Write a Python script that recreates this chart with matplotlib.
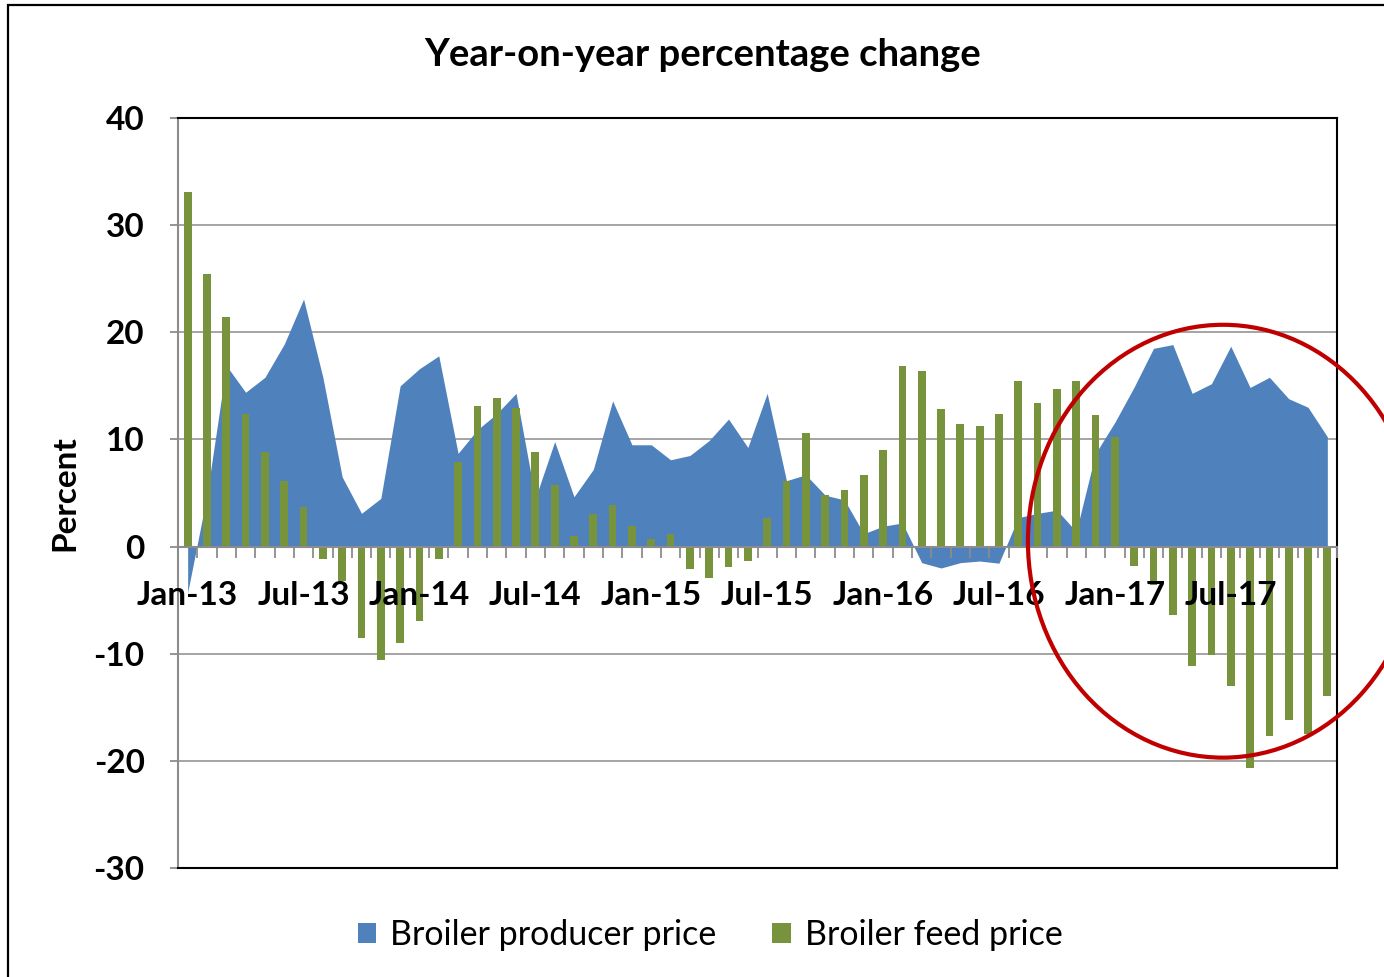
import matplotlib
matplotlib.use("Agg")
import matplotlib.pyplot as plt
from matplotlib.patches import Patch, Ellipse, Rectangle
import numpy as np

plt.rcParams['font.family'] = ['Lato', 'DejaVu Sans']

months = [f"{m}-{y}" for y in range(13, 18) for m in
          ["Jan", "Feb", "Mar", "Apr", "May", "Jun", "Jul", "Aug", "Sep", "Oct", "Nov", "Dec"]]

producer_price = [-4.3, 4.8, 16.9, 14.4, 15.8, 18.9, 23.1, 15.8, 6.5, 3.1,
                  4.5, 15.0, 16.6, 17.8, 8.7, 10.9, 12.4, 14.3, 4.5, 9.8,
                  4.65, 7.2, 13.6, 9.5, 9.5, 8.1, 8.5, 9.9, 11.9, 9.25,
                  14.3, 6.15, 6.7, 4.8, 4.35, 1.2, 1.9, 2.2, -1.5, -2.0,
                  -1.5, -1.35, -1.55, 2.7, 3.1, 3.4, 1.4, 8.7, 11.6, 14.9,
                  18.5, 18.85, 14.3, 15.2, 18.7, 14.85, 15.8, 13.8, 13.0, 10.25]

feed_price = [33.1, 25.4, 21.4, 12.4, 8.8, 6.1, 3.7, -1.15, -3.2, -8.5,
              -10.6, -9.0, -6.9, -1.2, 7.9, 13.1, 13.9, 12.95, 8.8, 5.75,
              1.0, 3.0, 3.85, 1.9, 0.7, 1.2, -2.1, -2.9, -1.95, -1.35,
              2.7, 6.15, 10.6, 4.8, 5.3, 6.7, 9.0, 16.9, 16.4, 12.8,
              11.45, 11.25, 12.4, 15.5, 13.4, 14.7, 15.5, 12.3, 10.25, -1.8,
              -3.6, -6.4, -11.1, -10.1, -13.0, -20.7, -17.7, -16.2, -17.5, -13.9]

y_ticks = [-30, -20, -10, 0, 10, 20, 30, 40]
title = "Year-on-year percentage change"
y_label = "Percent"
series_names = ["Broiler producer price", "Broiler feed price"]

blue = "#4F81BD"
green = "#77933C"
grid_gray = "#8C8C8C"

W, H = 1384, 977
fig = plt.figure(figsize=(W / 100, H / 100), dpi=100)
ax = fig.add_axes([178 / W, 1 - 868 / H, (1337 - 178) / W, (868 - 118) / H])

x = np.arange(len(months))
ax.fill_between(x, producer_price, 0, color=blue, linewidth=0, zorder=2)
ax.bar(x, feed_price, width=0.4, color=green, zorder=3)

ax.set_xlim(-0.5, len(months) - 0.5)
ax.set_ylim(-30, 40)
ax.set_yticks(y_ticks)
ax.set_yticklabels([str(v) for v in y_ticks], fontsize=24, fontweight='bold')
for v in y_ticks:
    ax.axhline(v, color=grid_gray, linewidth=1.1, zorder=1)

# category axis at zero
ax.spines['bottom'].set_position(('data', 0))
ax.spines['bottom'].set_color(grid_gray)
ax.spines['bottom'].set_linewidth(1.5)
ax.spines['bottom'].set_zorder(4)
ax.spines['left'].set_color(grid_gray)
ax.spines['left'].set_linewidth(1.5)
ax.spines['top'].set_color('black')
ax.spines['top'].set_linewidth(1.5)
ax.spines['right'].set_color('black')
ax.spines['right'].set_linewidth(1.5)
ax.plot([0, 1], [0, 0], transform=ax.transAxes, color='black', linewidth=1.5,
        clip_on=False, zorder=5)

ax.set_xticks(x[::6])
ax.set_xticklabels(months[::6], fontsize=24, fontweight='bold')
ax.set_xticks(np.arange(-0.5, len(months), 1), minor=True)
ax.tick_params(axis='x', which='major', length=0, pad=25)
ax.tick_params(axis='x', which='minor', length=8, width=1.3, color=grid_gray, direction='out')
ax.tick_params(axis='y', length=6, width=1.3, color=grid_gray, pad=18)
ax.xaxis.set_zorder(6)

ax.set_ylabel(y_label, fontsize=24, fontweight='bold', labelpad=10)

fig.text(703 / W, 1 - 55 / H, title, fontsize=27.5, fontweight='bold', ha='center', va='center')

# annotation ellipse
ell = Ellipse((53.6, 0.5), 20.2, 40.4, fill=False, edgecolor="#C00000", linewidth=3,
              clip_on=False, zorder=10)
ax.add_patch(ell)

handles = [Patch(facecolor=blue, edgecolor='none'), Patch(facecolor=green, edgecolor='none')]
fig.legend(handles, series_names, loc='center', bbox_to_anchor=(710 / W, 1 - 935 / H),
           ncol=2, frameon=False, fontsize=24.5, handlelength=0.55, handleheight=0.55,
           handletextpad=0.4, columnspacing=1.65)

# outer chart border
fig.patches.append(Rectangle((8 / W, -0.1), 1.2, 1 - 5 / H + 0.1, transform=fig.transFigure,
                             fill=False, edgecolor='black', linewidth=1.6, figure=fig))

fig.savefig("out.png", dpi=100)
